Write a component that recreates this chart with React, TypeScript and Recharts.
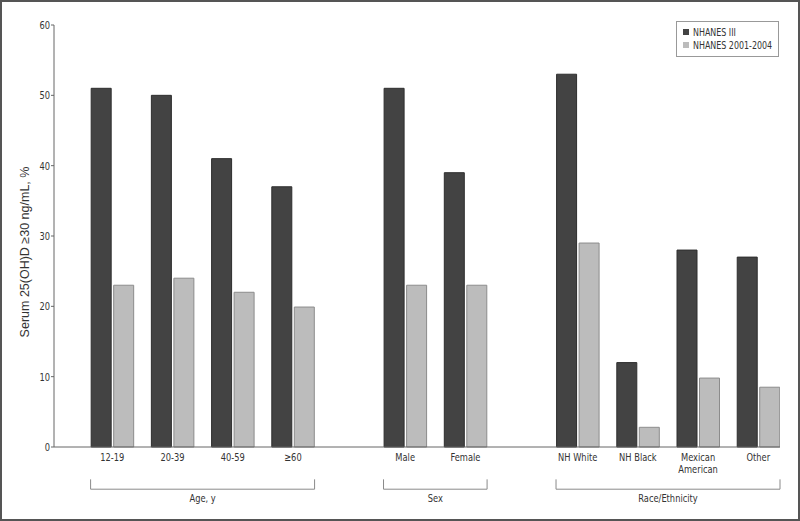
import React from 'react';
import { BarChart, Bar, XAxis, YAxis, ReferenceLine, Legend } from 'recharts';

const categories = ['12-19', '20-39', '40-59', '≥60', 'Male', 'Female', 'NH White', 'NH Black', 'Mexican\nAmerican', 'Other'];
const categoryGroup = [0, 0, 0, 0, 1, 1, 2, 2, 2, 2];
const groupLabels = ['Age, y', 'Sex', 'Race/Ethnicity'];
const nhanesIII = [51, 50, 41, 37, 51, 39, 53, 12, 28, 27];
const nhanes2001 = [23, 24, 22, 19.9, 23, 23, 29, 2.8, 9.8, 8.5];
const yTicks = [0, 10, 20, 30, 40, 50, 60];
const seriesNames = ['NHANES III', 'NHANES 2001-2004'];
const yLabel = 'Serum 25(OH)D ≥30 ng/mL, %';

// styles
const seriesFill = ['#434343', '#bcbcbc'];
const seriesStroke = ['#2e2e2e', '#8c8c8c'];

// layout constants (in category-slot units)
const GROUP_GAP = 0.865;
const HALF_PAIR = 0.36;
const LEFT_PAD = 0.968;

const data = categories.map((c, i) => ({
  label: c,
  pos: i + categoryGroup[i] * GROUP_GAP,
  iii: nhanesIII[i],
  n0104: nhanes2001[i],
}));
const ticks = data.map((d) => d.pos);
const brackets = groupLabels.map((g, gi) => {
  const members = data.filter((_, i) => categoryGroup[i] === gi);
  return { label: g, x1: members[0].pos - HALF_PAIR, x2: members[members.length - 1].pos + HALF_PAIR };
});
const xDomain = [-LEFT_PAD, ticks[ticks.length - 1] + HALF_PAIR];

const TEXT = '#333';
const NARROW = '"Liberation Sans Narrow", "Arial Narrow", "DejaVu Sans Condensed", sans-serif';
const SQUEEZE = 0.84;
const squeezeAt = (x: number) => `matrix(${SQUEEZE},0,0,1,${x * (1 - SQUEEZE)},0)`;

const CatTick = (props: any) => {
  const { x, y, payload } = props;
  let idx = 0;
  let best = Infinity;
  ticks.forEach((t, i) => {
    const d = Math.abs(t - payload.value);
    if (d < best) { best = d; idx = i; }
  });
  const lines = categories[idx].split('\n');
  return (
    <g transform={squeezeAt(x)}>
      {lines.map((ln, li) => (
        <text key={li} x={x} y={y + 14 + li * 12} textAnchor="middle" fontSize={11} fill={TEXT} fontFamily={NARROW}>
          {ln}
        </text>
      ))}
    </g>
  );
};

const ValTick = (props: any) => {
  const { x, y, payload } = props;
  return (
    <g transform={squeezeAt(x)}>
      <text x={x} y={y} dy="0.35em" textAnchor="end" fontSize={11} fill={TEXT} fontFamily={NARROW}>
        {payload.value}
      </text>
    </g>
  );
};

const GroupLabel = (props: any) => {
  const vb = props.viewBox || {};
  const cx = (vb.x || 0) + (vb.width || 0) / 2;
  const y = (vb.y || 0) + (vb.height || 0);
  return (
    <g transform={squeezeAt(cx)}>
      <text x={cx} y={y + 12.5} textAnchor="middle" fontSize={11} fill={TEXT} fontFamily={NARROW}>
        {props.value}
      </text>
    </g>
  );
};

const LegendBox = () => (
  <div style={{ width: 103, height: 36, boxSizing: 'border-box', border: '1px solid #999', background: '#fff', padding: '3px 0 0 6px', fontFamily: NARROW }}>
    {seriesNames.map((name, i) => (
      <div key={i} style={{ display: 'flex', alignItems: 'center', height: 13.6, fontSize: 10.5, color: TEXT, whiteSpace: 'nowrap' }}>
        <span style={{ display: 'inline-block', width: 6, height: 6, background: seriesFill[i], marginRight: 4, flexShrink: 0 }} />
        <span style={{ display: 'inline-block', transform: `scaleX(${SQUEEZE})`, transformOrigin: 'left center' }}>{name}</span>
      </div>
    ))}
  </div>
);

export default function App() {
  return (
    <div style={{ position: 'absolute', left: 0, top: 0, width: 800, height: 521, background: '#fff', fontFamily: NARROW }}>
      <BarChart width={800} height={521} data={data} margin={{ top: 25, right: 20, bottom: 0, left: 0 }} barGap={2.5}>
        <XAxis
          dataKey="pos"
          type="number"
          domain={xDomain}
          allowDataOverflow
          ticks={ticks}
          interval={0}
          tickLine={false}
          tickSize={0}
          tickMargin={0}
          height={74}
          tick={<CatTick />}
          axisLine={{ stroke: '#666' }}
        />
        <YAxis
          type="number"
          domain={[0, 60]}
          ticks={yTicks}
          width={54}
          tickSize={3}
          tickMargin={1}
          tick={<ValTick />}
          axisLine={{ stroke: '#666' }}
          tickLine={{ stroke: '#666' }}
          label={{
            content: () => (
              <text x={25} y={252} transform="rotate(-90 25 252)" textAnchor="middle" dominantBaseline="central" fontSize={12.5} fill={TEXT} fontFamily='"Liberation Sans", Arial, sans-serif'>
                {yLabel}
              </text>
            ),
          }}
        />
        <Legend layout="vertical" align="center" verticalAlign="middle" content={<LegendBox />} wrapperStyle={{ position: 'absolute', left: 676, top: 21, width: 103, height: 36 }} />
        <Bar dataKey="iii" name={seriesNames[0]} fill={seriesFill[0]} stroke={seriesStroke[0]} strokeWidth={1} barSize={20} isAnimationActive={false} />
        <Bar dataKey="n0104" name={seriesNames[1]} fill={seriesFill[1]} stroke={seriesStroke[1]} strokeWidth={1} barSize={20} isAnimationActive={false} />
        {brackets.map((b, i) => (
          <ReferenceLine key={'l' + i} segment={[{ x: b.x1, y: -4.6 }, { x: b.x1, y: -6.0 }]} stroke="#8a8a8a" ifOverflow="visible" />
        ))}
        {brackets.map((b, i) => (
          <ReferenceLine key={'r' + i} segment={[{ x: b.x2, y: -4.6 }, { x: b.x2, y: -6.0 }]} stroke="#8a8a8a" ifOverflow="visible" />
        ))}
        {brackets.map((b, i) => (
          <ReferenceLine
            key={'h' + i}
            segment={[{ x: b.x1, y: -6.0 }, { x: b.x2, y: -6.0 }]}
            stroke="#8a8a8a"
            ifOverflow="visible"
            label={{ value: b.label, position: 'bottom', content: <GroupLabel value={b.label} /> }}
          />
        ))}
      </BarChart>
      <div style={{ position: 'absolute', left: 0, top: 0, width: 800, height: 521, boxSizing: 'border-box', border: '2px solid #555', pointerEvents: 'none' }} />
    </div>
  );
}
